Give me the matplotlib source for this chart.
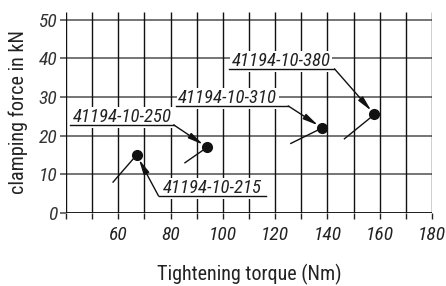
import matplotlib
matplotlib.use("Agg")
import matplotlib.pyplot as plt

# ---- data ----
labels = ["41194-10-215", "41194-10-250", "41194-10-310", "41194-10-380"]
torque = [67, 94, 138, 158]
force = [15, 17, 22, 25.5]
# end of the short oblique line below each point
tick_end_x = [58, 85.5, 126, 146.5]
tick_end_y = [8, 13, 18, 19.2]
# label underline: start x, end x, y
label_x0 = [75.4, 41.5, 81.9, 102.3]
label_x1 = [116.5, 81.2, 125.0, 142.7]
label_y = [4.4, 22.8, 27.7, 37.3]
# leader starts at right end (1) or left end (0) of underline
leader_from_end = [0, 1, 1, 1]

x_ticks = list(range(40, 181, 10))
x_ticklabels = [60, 80, 100, 120, 140, 160, 180]
y_ticks = [0, 10, 20, 30, 40, 50]

FONT = ["Roboto Condensed", "DejaVu Sans"]
plt.rcParams['font.family'] = FONT

fig = plt.figure(figsize=(4.46, 2.86), dpi=100)
ax = fig.add_axes([66/446, (286-213)/286, (432-66)/446, (213-12)/286])
ax.set_xlim(40, 180)
ax.set_ylim(0, 52)
for s in ax.spines.values():
    s.set_visible(False)

# grid
ax.hlines(y_ticks, 40, 180, colors="#6a6a6a", lw=1.3, zorder=1)
ax.hlines([0], 40, 180, colors="#222222", lw=1.4, zorder=1)
ax.vlines(x_ticks, 0, 52, colors="#111111", lw=1.0, zorder=1)

ax.set_xticks(x_ticks)
ax.set_xticklabels([str(t) if t in x_ticklabels else "" for t in x_ticks])
ax.set_yticks(y_ticks)
ax.set_yticklabels([str(t) for t in y_ticks])
ax.tick_params(axis="x", direction="out", length=4, width=1.0, color="#222222",
               labelsize=14, pad=5, labelcolor="#222222")
ax.tick_params(axis="y", direction="out", length=4.5, width=1.2, color="#555555",
               labelsize=14, pad=1.5, labelcolor="#333333")
for t in ax.get_xticklabels() + ax.get_yticklabels():
    t.set_fontstyle("italic")

ax.set_xlabel("Tightening torque (Nm)", fontsize=14.5, color="#222222", labelpad=15)
ax.set_ylabel("clamping force in kN", fontsize=14.5, color="#222222", labelpad=8)

# points and short oblique lines
for i in range(len(labels)):
    ax.plot([torque[i], tick_end_x[i]], [force[i], tick_end_y[i]], color="#111111", lw=1.0, zorder=3)
ax.plot(torque, force, "o", color="#111111", ms=7, zorder=4)

# labels with underline and leader arrows
for i, lab in enumerate(labels):
    ax.plot([label_x0[i], label_x1[i]], [label_y[i], label_y[i]], color="#111111", lw=1.0, zorder=3)
    ax.annotate(lab, xy=(label_x0[i], label_y[i]), xytext=(3 if i == 0 else 2, 1.8),
                textcoords="offset points",
                fontsize=13.5, style="italic", color="#222222", ha="left", va="baseline",
                bbox=dict(facecolor="white", edgecolor="none", pad=1.2), zorder=2.5)
    sx = label_x1[i] if leader_from_end[i] else label_x0[i]
    ax.annotate("", xy=(torque[i], force[i]), xytext=(sx, label_y[i]),
                arrowprops=dict(arrowstyle="-|>,head_length=0.9,head_width=0.18",
                                color="#111111", lw=1.0, shrinkA=0, shrinkB=3.5),
                zorder=4)

fig.savefig("out.png", dpi=100, facecolor="white")
